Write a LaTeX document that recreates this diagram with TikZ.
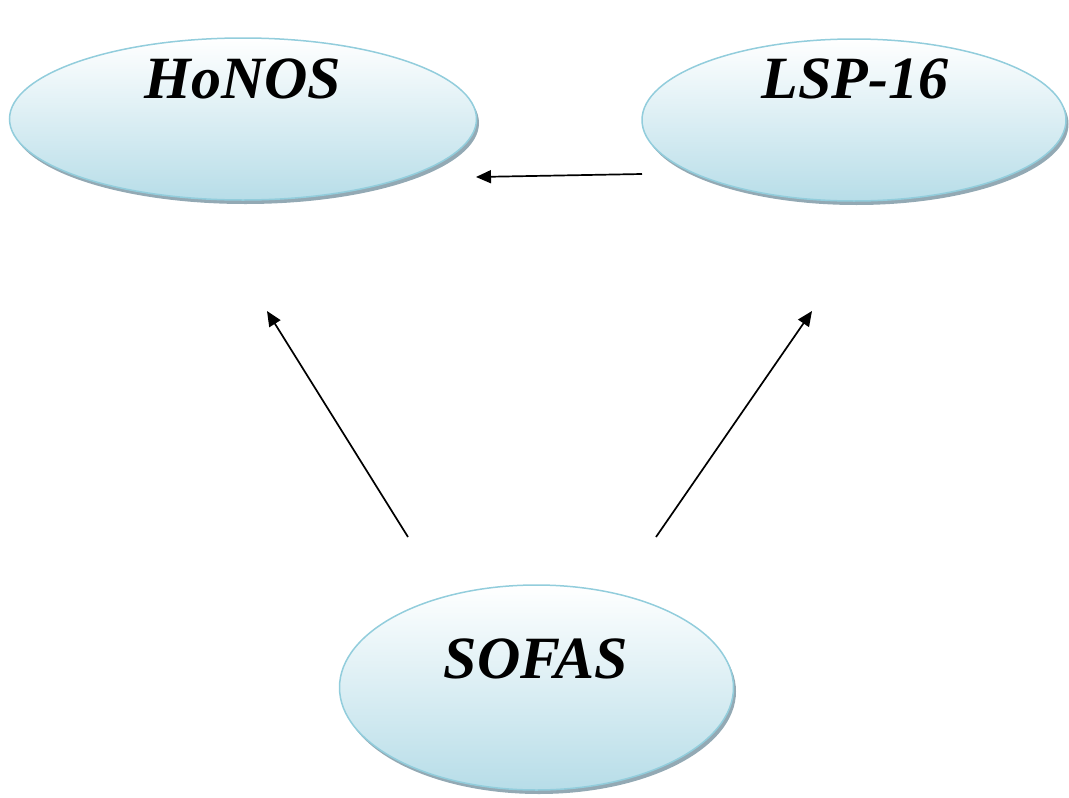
\documentclass[tikz,border=0pt]{standalone}
\usepackage{fontspec}
\setmainfont{Liberation Serif}
\usetikzlibrary{shapes.geometric,arrows.meta,shadows}
\definecolor{ebord}{RGB}{146,205,220}
\definecolor{ebot}{RGB}{183,221,232}
\definecolor{eshadow}{RGB}{135,160,172}
\begin{document}
\begin{tikzpicture}[x=1pt,y=-1pt,
  oval/.style={ellipse, draw=ebord, line width=1.5pt, inner sep=0pt,
    top color=white, bottom color=ebot, shading angle=0,
    drop shadow={shadow xshift=2.5pt, shadow yshift=-4pt, fill=eshadow, opacity=0.9}},
  lbl/.style={anchor=base, inner sep=0pt, font=\fontsize{60}{72}\selectfont\bfseries\itshape},
  arr/.style={-{Triangle[length=15pt,width=13pt]}, line width=1.7pt, black}]
\useasboundingbox (0,0) rectangle (1069,798);
\node[oval, minimum width=467pt, minimum height=162pt] (honos) at (243,119) {};
\node[oval, minimum width=424pt, minimum height=162pt] (lsp) at (854,120) {};
\node[oval, minimum width=394pt, minimum height=205pt] (sofas) at (536.5,687.5) {};
\node[lbl] (honosT) at (243,98) {HoNOS};
\node[lbl] (lspT) at (855,98) {LSP-16};
\node[lbl] (sofasT) at (536,678) {SOFAS};
\coordinate (a1s) at (642,174);
\coordinate (a1e) at (476,177);
\coordinate (a2s) at (408,537);
\coordinate (a2e) at (267,311);
\coordinate (a3s) at (656,537);
\coordinate (a3e) at (812,311);
\draw[arr] (a1s) -- (a1e);
\draw[arr] (a2s) -- (a2e);
\draw[arr] (a3s) -- (a3e);
\end{tikzpicture}
\end{document}
